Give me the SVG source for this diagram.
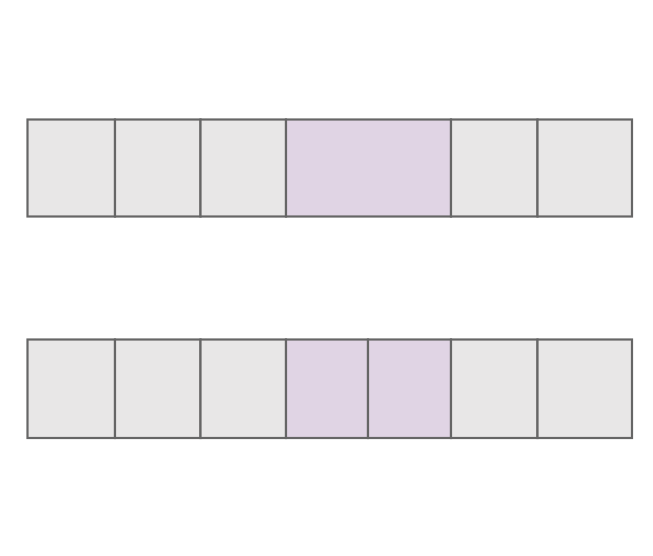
<svg xmlns="http://www.w3.org/2000/svg" width="653" height="556" viewBox="0 0 653 556">
<style>
.c{stroke:#666666;stroke-width:2.2}
.g{fill:#e8e7e7}
.p{fill:#e0d4e4}
</style>
<rect width="653" height="556" fill="#ffffff"/>
<g id="row1">
<rect id="a1" class="c g" x="27.5" y="119.5" width="87.5" height="97"/>
<rect id="a2" class="c g" x="115" y="119.5" width="85.5" height="97"/>
<rect id="a3" class="c g" x="200.5" y="119.5" width="85.5" height="97"/>
<rect id="a4" class="c p" x="286" y="119.5" width="165" height="97"/>
<rect id="a5" class="c g" x="451" y="119.5" width="86.5" height="97"/>
<rect id="a6" class="c g" x="537.5" y="119.5" width="94.5" height="97"/>
</g>
<g id="row2">
<rect id="b1" class="c g" x="27.5" y="339.5" width="87.5" height="98.5"/>
<rect id="b2" class="c g" x="115" y="339.5" width="85.5" height="98.5"/>
<rect id="b3" class="c g" x="200.5" y="339.5" width="85.5" height="98.5"/>
<rect id="b4" class="c p" x="286" y="339.5" width="82" height="98.5"/>
<rect id="b5" class="c p" x="368" y="339.5" width="83" height="98.5"/>
<rect id="b6" class="c g" x="451" y="339.5" width="86.5" height="98.5"/>
<rect id="b7" class="c g" x="537.5" y="339.5" width="94.5" height="98.5"/>
</g>
<g id="connectors"/>
</svg>
